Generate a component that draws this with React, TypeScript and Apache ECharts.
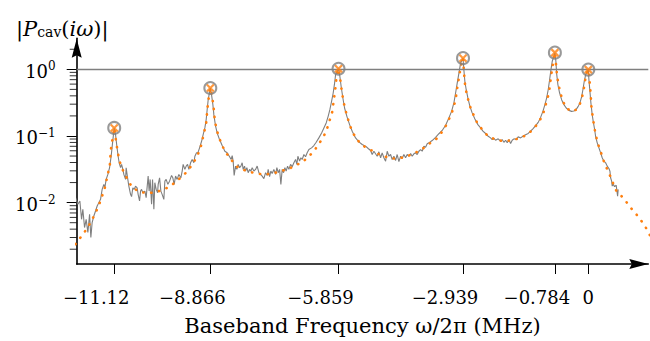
import React, { useEffect, useRef } from 'react';
import * as echarts from 'echarts';

// ---- tick definitions ----
const xTicks = [-11.12, -8.866, -5.859, -2.939, -0.784, 0];
const xTickLabels = ['−11.12', '−8.866', '−5.859', '−2.939', '−0.784', '0'];
const yMajorTicks = [0.01, 0.1, 1];
const yMajorExponents = ['−2', '−1', '0'];
const yMinorTicks = [
  0.002, 0.003, 0.004, 0.005, 0.006, 0.007, 0.008, 0.009,
  0.02, 0.03, 0.04, 0.05, 0.06, 0.07, 0.08, 0.09,
  0.2, 0.3, 0.4, 0.5, 0.6, 0.7, 0.8, 0.9, 2,
];

// ---- fitted peaks (MHz, |P|) ----
const peakFreqs = [-11.12, -8.866, -5.859, -2.939, -0.784, 0];
const peakMags = [0.132, 0.524, 1.02, 1.47, 1.78, 0.99];

// ---- measured response [MHz, |P|] ----
const measured: [number, number][] = [
  [-12.027, 0.0119], [-11.973, 0.00944], [-11.926, 0.0106], [-11.886, 0.00562], [-11.856, 0.00794],
  [-11.816, 0.00423], [-11.778, 0.00562], [-11.738, 0.00356], [-11.698, 0.00668], [-11.668, 0.003],
  [-11.638, 0.00502], [-11.598, 0.0063], [-11.558, 0.00749], [-11.52, 0.0089], [-11.48, 0.01],
  [-11.441, 0.0112], [-11.403, 0.0158], [-11.363, 0.0188], [-11.34, 0.0167], [-11.309, 0.0223],
  [-11.269, 0.0265], [-11.229, 0.0334], [-11.192, 0.0497], [-11.159, 0.0789], [-11.12, 0.132],
  [-11.089, 0.105], [-11.058, 0.0702], [-11.028, 0.0497], [-11.004, 0.0396], [-10.971, 0.0334],
  [-10.948, 0.0374], [-10.917, 0.0315], [-10.894, 0.0265], [-10.854, 0.0223], [-10.84, 0.0334],
  [-10.807, 0.0236], [-10.777, 0.0177], [-10.737, 0.0133], [-10.713, 0.0123], [-10.683, 0.0167],
  [-10.652, 0.0158], [-10.62, 0.0177], [-10.582, 0.0167], [-10.559, 0.0133], [-10.526, 0.0106],
  [-10.502, 0.0149], [-10.479, 0.0158], [-10.448, 0.0141], [-10.401, 0.0149], [-10.371, 0.0119],
  [-10.324, 0.025], [-10.301, 0.0149], [-10.277, 0.0223], [-10.244, 0.00944], [-10.221, 0.0223],
  [-10.19, 0.00794], [-10.167, 0.0199], [-10.136, 0.0158], [-10.103, 0.0141], [-10.089, 0.0188],
  [-10.056, 0.0236], [-10.026, 0.0149], [-9.996, 0.0133], [-9.956, 0.0112], [-9.932, 0.021],
  [-9.902, 0.0223], [-9.862, 0.0188], [-9.822, 0.021], [-9.775, 0.0256], [-9.745, 0.0236],
  [-9.714, 0.0188], [-9.681, 0.025], [-9.644, 0.0223], [-9.604, 0.0265], [-9.557, 0.0236],
  [-9.526, 0.0297], [-9.503, 0.0374], [-9.463, 0.0315], [-9.432, 0.0353], [-9.4, 0.0374],
  [-9.369, 0.0315], [-9.329, 0.0396], [-9.292, 0.0444], [-9.252, 0.0396], [-9.228, 0.0497],
  [-9.189, 0.0559], [-9.158, 0.0559], [-9.118, 0.0663], [-9.071, 0.0833], [-9.034, 0.105],
  [-8.994, 0.132], [-8.963, 0.176], [-8.94, 0.248], [-8.916, 0.35], [-8.866, 0.524],
  [-8.837, 0.416], [-8.806, 0.295], [-8.783, 0.209], [-8.743, 0.14], [-8.705, 0.111],
  [-8.649, 0.0883], [-8.588, 0.0719], [-8.525, 0.059], [-8.471, 0.0559], [-8.414, 0.0488],
  [-8.377, 0.0444], [-8.353, 0.0509], [-8.33, 0.0419], [-8.307, 0.0256], [-8.274, 0.0353],
  [-8.243, 0.0315], [-8.213, 0.0374], [-8.18, 0.0334], [-8.149, 0.0353], [-8.119, 0.0396],
  [-8.095, 0.0315], [-8.063, 0.0353], [-8.039, 0.0297], [-8.009, 0.0334], [-7.978, 0.0281],
  [-7.945, 0.0315], [-7.915, 0.0297], [-7.884, 0.0334], [-7.844, 0.0297], [-7.805, 0.0315],
  [-7.767, 0.0353], [-7.727, 0.0281], [-7.687, 0.0265], [-7.65, 0.025], [-7.61, 0.0229],
  [-7.57, 0.0281], [-7.532, 0.0256], [-7.509, 0.0317], [-7.476, 0.0245], [-7.446, 0.0297],
  [-7.415, 0.0274], [-7.375, 0.0315], [-7.335, 0.0265], [-7.305, 0.0334], [-7.274, 0.0281],
  [-7.241, 0.0315], [-7.211, 0.0188], [-7.18, 0.0315], [-7.148, 0.0281], [-7.117, 0.0334],
  [-7.087, 0.0297], [-7.054, 0.0353], [-7.023, 0.0315], [-6.984, 0.0374], [-6.946, 0.0346],
  [-6.906, 0.0396], [-6.866, 0.0444], [-6.836, 0.0374], [-6.812, 0.0497], [-6.772, 0.0419],
  [-6.742, 0.0471], [-6.711, 0.0444], [-6.671, 0.0527], [-6.632, 0.0488], [-6.594, 0.0559],
  [-6.554, 0.0626], [-6.491, 0.0663], [-6.437, 0.0719], [-6.383, 0.0804], [-6.32, 0.0936],
  [-6.256, 0.111], [-6.202, 0.132], [-6.148, 0.157], [-6.102, 0.197], [-6.062, 0.248],
  [-6.022, 0.33], [-5.984, 0.441], [-5.951, 0.622], [-5.928, 0.828], [-5.859, 1.02],
  [-5.827, 0.78], [-5.797, 0.553], [-5.757, 0.371], [-5.717, 0.263], [-5.663, 0.197],
  [-5.599, 0.148], [-5.538, 0.118], [-5.459, 0.0936], [-5.381, 0.0817], [-5.304, 0.0744],
  [-5.224, 0.0702], [-5.163, 0.0648], [-5.107, 0.0605], [-5.069, 0.0527], [-5.029, 0.059],
  [-4.99, 0.054], [-4.952, 0.0497], [-4.912, 0.0579], [-4.872, 0.0471], [-4.835, 0.0559],
  [-4.795, 0.0471], [-4.755, 0.0419], [-4.717, 0.059], [-4.678, 0.0497], [-4.638, 0.0527],
  [-4.6, 0.0444], [-4.56, 0.0497], [-4.52, 0.0429], [-4.483, 0.0527], [-4.443, 0.0411],
  [-4.403, 0.0497], [-4.366, 0.046], [-4.326, 0.0527], [-4.286, 0.0471], [-4.248, 0.0527],
  [-4.208, 0.0497], [-4.168, 0.0545], [-4.131, 0.0497], [-4.091, 0.054], [-4.051, 0.0559],
  [-4.014, 0.0527], [-3.974, 0.059], [-3.934, 0.0626], [-3.896, 0.059], [-3.856, 0.0702],
  [-3.817, 0.0677], [-3.779, 0.0763], [-3.739, 0.0789], [-3.662, 0.0853], [-3.582, 0.0956],
  [-3.505, 0.108], [-3.427, 0.121], [-3.347, 0.145], [-3.27, 0.187], [-3.207, 0.234],
  [-3.153, 0.313], [-3.113, 0.441], [-3.075, 0.622], [-3.035, 0.878], [-2.996, 1.24],
  [-2.939, 1.47], [-2.918, 0.97], [-2.895, 0.657], [-2.864, 0.494], [-2.824, 0.371],
  [-2.777, 0.278], [-2.724, 0.222], [-2.66, 0.18], [-2.59, 0.148], [-2.526, 0.132],
  [-2.472, 0.118], [-2.409, 0.109], [-2.348, 0.099], [-2.292, 0.0936], [-2.254, 0.0883],
  [-2.214, 0.0923], [-2.175, 0.0863], [-2.114, 0.0907], [-2.057, 0.0833], [-2.02, 0.0883],
  [-1.98, 0.0804], [-1.94, 0.0863], [-1.902, 0.0789], [-1.863, 0.0883], [-1.823, 0.077],
  [-1.785, 0.0863], [-1.745, 0.0907], [-1.691, 0.0883], [-1.644, 0.0971], [-1.588, 0.0936],
  [-1.534, 0.099], [-1.471, 0.104], [-1.41, 0.109], [-1.354, 0.118], [-1.3, 0.128],
  [-1.236, 0.143], [-1.175, 0.16], [-1.119, 0.19], [-1.065, 0.234], [-1.018, 0.295],
  [-0.978, 0.371], [-0.941, 0.494], [-0.908, 0.697], [-0.877, 0.983], [-0.847, 1.31],
  [-0.784, 1.78], [-0.76, 1.31], [-0.744, 0.878], [-0.713, 0.587], [-0.673, 0.441],
  [-0.626, 0.35], [-0.572, 0.295], [-0.518, 0.263], [-0.455, 0.242], [-0.392, 0.234],
  [-0.338, 0.237], [-0.284, 0.251], [-0.237, 0.278], [-0.197, 0.313], [-0.157, 0.385],
  [-0.127, 0.494], [-0.096, 0.657], [-0.063, 0.828], [0, 0.99], [0.014, 0.697],
  [0.038, 0.466], [0.061, 0.313], [0.091, 0.209], [0.115, 0.166], [0.148, 0.125],
  [0.171, 0.099], [0.209, 0.0789], [0.249, 0.0663], [0.289, 0.0559], [0.326, 0.0471],
  [0.366, 0.0419], [0.406, 0.0396], [0.443, 0.0353], [0.483, 0.0325], [0.507, 0.0297],
  [0.523, 0.0236], [0.547, 0.021], [0.561, 0.0177], [0.584, 0.0188], [0.617, 0.0174],
  [0.654, 0.0182], [0.687, 0.0125], [0.701, 0.0158],
];

// ---- fitted model [MHz, |P|] ----
const fitted: [number, number][] = [
  [-12.03, 0.00238], [-11.91, 0.003], [-11.809, 0.00368], [-11.698, 0.00474], [-11.614, 0.00597],
  [-11.52, 0.00794], [-11.464, 0.00976], [-11.403, 0.01256], [-11.34, 0.01676], [-11.3, 0.0218],
  [-11.262, 0.0281], [-11.222, 0.0373], [-11.199, 0.0626], [-11.168, 0.0833], [-11.12, 0.132],
  [-11.065, 0.0744], [-11.035, 0.0559], [-10.995, 0.0419], [-10.934, 0.0322], [-10.854, 0.0256],
  [-10.777, 0.0203], [-10.676, 0.0164], [-10.502, 0.0144], [-10.324, 0.0138], [-10.136, 0.0144],
  [-9.956, 0.0158], [-9.798, 0.0177], [-9.644, 0.0215], [-9.51, 0.025], [-9.393, 0.0304],
  [-9.275, 0.0383], [-9.175, 0.0497], [-9.095, 0.0664], [-9.017, 0.1086], [-8.963, 0.157],
  [-8.94, 0.234], [-8.916, 0.33], [-8.866, 0.524], [-8.823, 0.392], [-8.79, 0.278],
  [-8.759, 0.166], [-8.705, 0.1175], [-8.649, 0.0905], [-8.588, 0.0718], [-8.508, 0.0571],
  [-8.391, 0.0455], [-8.26, 0.0352], [-8.119, 0.0315], [-7.945, 0.029], [-7.767, 0.0271],
  [-7.57, 0.0265], [-7.399, 0.0274], [-7.218, 0.0297], [-7.023, 0.0322], [-6.852, 0.0365],
  [-6.695, 0.041], [-6.554, 0.0497], [-6.437, 0.059], [-6.32, 0.0762], [-6.226, 0.0937],
  [-6.148, 0.1175], [-6.085, 0.157], [-6.008, 0.228], [-5.968, 0.35], [-5.928, 0.553],
  [-5.909, 0.739], [-5.859, 1.02], [-5.827, 0.78], [-5.797, 0.553], [-5.757, 0.371],
  [-5.71, 0.263], [-5.656, 0.197], [-5.599, 0.148], [-5.522, 0.1112], [-5.421, 0.0883],
  [-5.304, 0.0726], [-5.147, 0.0641], [-4.99, 0.0559], [-4.795, 0.0497], [-4.6, 0.0459],
  [-4.443, 0.0459], [-4.248, 0.0497], [-4.091, 0.0546], [-3.91, 0.0626], [-3.739, 0.0762],
  [-3.598, 0.0853], [-3.465, 0.1074], [-3.347, 0.1396], [-3.254, 0.1865], [-3.176, 0.248],
  [-3.113, 0.35], [-3.075, 0.524], [-3.035, 0.739], [-2.993, 1.09], [-2.939, 1.47],
  [-2.918, 0.927], [-2.895, 0.622], [-2.864, 0.466], [-2.817, 0.35], [-2.761, 0.263],
  [-2.684, 0.2018], [-2.606, 0.157], [-2.489, 0.1247], [-2.348, 0.099], [-2.175, 0.0883],
  [-1.98, 0.0833], [-1.785, 0.0863], [-1.588, 0.0937], [-1.433, 0.105], [-1.3, 0.1247],
  [-1.175, 0.157], [-1.065, 0.209], [-0.988, 0.313], [-0.924, 0.441], [-0.884, 0.697],
  [-0.847, 1.04], [-0.784, 1.78], [-0.753, 1.1], [-0.73, 0.78], [-0.69, 0.553],
  [-0.612, 0.35], [-0.518, 0.263], [-0.392, 0.234], [-0.284, 0.248], [-0.204, 0.294],
  [-0.143, 0.392], [-0.087, 0.586], [-0.063, 0.78], [0, 0.99], [0.03, 0.657],
  [0.054, 0.441], [0.068, 0.294], [0.091, 0.221], [0.131, 0.148], [0.171, 0.105],
  [0.232, 0.0744], [0.312, 0.0527], [0.389, 0.0373], [0.483, 0.0281], [0.561, 0.021],
  [0.654, 0.0152], [0.765, 0.0128], [0.875, 0.0106], [0.992, 0.0084], [1.11, 0.0069],
  [1.227, 0.0055], [1.328, 0.00447], [1.405, 0.00363], [1.45, 0.0032],
];

const SERIF = 'DejaVu Serif';
const GRAY = '#7f7f7f';
const ORANGE = '#ff7f0e';
const ARROW = 'path://M0,0L5,19L0,16.5L-5,19Z';
const X_MIN = -12.0;
const X_MAX = 1.407;

export default function App() {
  const ref = useRef<HTMLDivElement>(null);

  useEffect(() => {
    if (!ref.current) return;
    const chart = echarts.init(ref.current, undefined, { renderer: 'svg' });
    const base = { fontFamily: SERIF, color: '#000', fontWeight: 'normal' as const };
    const option: any = {
      animation: false,
      backgroundColor: '#fff',
      title: {
        text: '{n||}{p|P}{sub|cav}{n|(}{p|iω}{n|)|}',
        left: 11,
        top: 8,
        textStyle: {
          fontWeight: 'normal',
          fontFamily: SERIF,
          rich: {
            n: { ...base, fontSize: 21, lineHeight: 26, verticalAlign: 'bottom' },
            p: { ...base, fontStyle: 'italic', fontSize: 21, lineHeight: 26, verticalAlign: 'bottom' },
            sub: { ...base, fontSize: 14, lineHeight: 15, verticalAlign: 'bottom' },
          },
        },
      },
      grid: { left: 76.7, right: 1.7, top: 38.3, bottom: 76, containLabel: false },
      xAxis: {
        type: 'value',
        min: X_MIN,
        max: X_MAX,
        name: 'Baseband Frequency ω/2π (MHz)',
        nameLocation: 'middle',
        nameGap: 51,
        nameTextStyle: { ...base, fontSize: 21 },
        axisLine: {
          show: true,
          onZero: false,
          symbol: ['none', ARROW],
          symbolSize: [10, 19],
          symbolOffset: [0, -9.5],
          lineStyle: { color: '#000', width: 1.6 },
        },
        axisTick: { show: true, inside: false, length: 10, customValues: xTicks, lineStyle: { color: '#000', width: 1 } },
        axisLabel: {
          customValues: xTicks,
          margin: 24,
          formatter: (v: number) => {
            const i = xTicks.indexOf(v);
            const t = i >= 0 ? xTickLabels[i] : String(v);
            return v < 0 ? `{neg|${t}}` : `{pos|${t}}`;
          },
          rich: {
            neg: { ...base, fontSize: 18, padding: [0, 36, 0, 0] },
            pos: { ...base, fontSize: 18 },
          },
        },
        splitLine: { show: false },
      },
      yAxis: {
        type: 'log',
        logBase: 10,
        min: 0.0012,
        max: 2.92,
        position: 'left',
        axisLine: {
          show: true,
          onZero: false,
          symbol: ['none', ARROW],
          symbolSize: [10, 20],
          symbolOffset: [0, -10],
          lineStyle: { color: '#000', width: 1.6 },
        },
        axisTick: { show: true, inside: false, length: 10, customValues: yMajorTicks, lineStyle: { color: '#000', width: 1 } },
        axisLabel: {
          customValues: yMajorTicks,
          margin: 21,
          formatter: (v: number) => {
            let i = 0;
            yMajorTicks.forEach((t, k) => { if (Math.abs(t - v) / t < 1e-6) i = k; });
            return `{b|10}{s|${yMajorExponents[i]}}`;
          },
          rich: {
            b: { ...base, fontSize: 18, lineHeight: 22, padding: [8, 0, 0, 0], verticalAlign: 'bottom' },
            s: { ...base, fontSize: 12, lineHeight: 12, padding: [2, 0, 0, 0], verticalAlign: 'top' },
          },
        },
        splitLine: { show: false },
      },
      series: [
        {
          type: 'line',
          name: 'measured',
          data: measured,
          showSymbol: false,
          symbol: 'none',
          lineStyle: { color: GRAY, width: 1.1 },
          z: 2,
          markLine: {
            silent: true,
            symbol: ['none', 'none'],
            label: { show: false },
            lineStyle: { color: GRAY, width: 1.3, type: 'solid' },
            data: [{ yAxis: 1 }],
          },
        },
        {
          type: 'line',
          name: 'fit',
          data: fitted,
          showSymbol: false,
          symbol: 'none',
          lineStyle: { color: ORANGE, width: 2.6, type: [0.3, 7.7], cap: 'round' },
          z: 3,
        },
        {
          type: 'scatter',
          name: 'peaks',
          data: peakFreqs.map((f, i) => [f, peakMags[i]]),
          symbol: 'circle',
          symbolSize: 12,
          itemStyle: { color: 'none', borderColor: GRAY, borderWidth: 2 },
          z: 4,
        },
        {
          type: 'scatter',
          name: 'poles',
          data: peakFreqs.map((f, i) => [f, peakMags[i]]),
          symbol: 'path://M0,0L10,10M10,0L0,10',
          symbolSize: 7,
          itemStyle: { color: 'none', borderColor: ORANGE, borderWidth: 2.2 },
          z: 5,
        },
        {
          // minor log ticks on the y axis, placed through the axis scales at the left edge
          type: 'scatter',
          name: 'minor ticks',
          data: yMinorTicks.map((v) => [X_MIN, v]),
          symbol: 'rect',
          symbolSize: [7, 1],
          symbolOffset: [-3.5, 0],
          itemStyle: { color: '#000' },
          clip: false,
          silent: true,
          z: 6,
        },
      ],
    };
    chart.setOption(option);
    return () => chart.dispose();
  }, []);

  return (
    <div
      ref={ref}
      style={{ position: 'fixed', left: 0, top: 0, width: 650, height: 341, background: '#fff' }}
    />
  );
}
